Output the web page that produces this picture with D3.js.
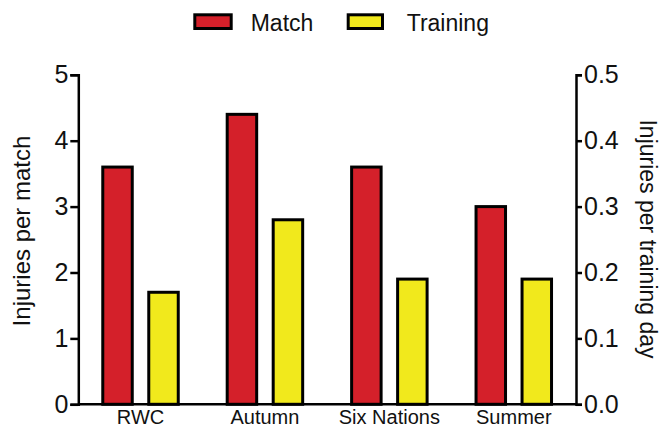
<!DOCTYPE html>
<html>
<head>
<meta charset="utf-8">
<script src="https://cdn.jsdelivr.net/npm/d3@7"></script>
<style>
  html, body { margin: 0; padding: 0; background: #fff; }
  svg { display: block; font-family: "Liberation Sans", Arial, Helvetica, sans-serif; }
</style>
</head>
<body>
<svg id="chart" width="662" height="428"></svg>
<script>
const categories = ["RWC", "Autumn", "Six Nations", "Summer"];
const seriesNames = ["Match", "Training"];
const matchValues = [3.6, 4.4, 3.6, 3.0];
const trainingValues = [0.17, 0.28, 0.19, 0.19];
const leftTicks = [0, 1, 2, 3, 4, 5];
const rightTicks = [0.0, 0.1, 0.2, 0.3, 0.4, 0.5];
const colors = { Match: "#d4202a", Training: "#f1e91c" };

(function () {
const svg = d3.select("#chart");
const mLeft = 78.3, mRight = 576, mTop = 74.8, mBottom = 404.3;

const x0 = d3.scaleBand().domain(categories).range([mLeft, mRight]).paddingInner(0).paddingOuter(0);
const x1 = d3.scaleBand().domain(seriesNames).range([0, x0.bandwidth()]).paddingInner(0.359).paddingOuter(0.532);
const yL = d3.scaleLinear().domain([0, 5]).range([mBottom, mTop]);
const yR = d3.scaleLinear().domain([0, 0.5]).range([mBottom, mTop]);

const rows = categories.map((c, i) => ({ cat: c, Match: matchValues[i], Training: trainingValues[i] }));

// bars
const g = svg.append("g");
rows.forEach(r => {
  g.append("rect")
    .attr("x", x0(r.cat) + x1("Match"))
    .attr("y", yL(r.Match))
    .attr("width", x1.bandwidth())
    .attr("height", mBottom - yL(r.Match))
    .attr("fill", colors.Match)
    .attr("stroke", "#000").attr("stroke-width", 3);
  g.append("rect")
    .attr("x", x0(r.cat) + x1("Training"))
    .attr("y", yR(r.Training))
    .attr("width", x1.bandwidth())
    .attr("height", mBottom - yR(r.Training))
    .attr("fill", colors.Training)
    .attr("stroke", "#000").attr("stroke-width", 3);
});

function styleAxis(sel, size) {
  sel.select(".domain").attr("stroke", "#000").attr("stroke-width", 2.5);
  sel.selectAll(".tick line").attr("stroke", "#000").attr("stroke-width", 2.5);
  sel.selectAll(".tick text").attr("fill", "#111").style("font-size", size + "px")
     .style("font-family", '"Liberation Sans", Arial, sans-serif');
}

// left axis
const gl = svg.append("g").attr("transform", `translate(${mLeft},0)`)
  .call(d3.axisLeft(yL).tickValues(leftTicks).tickFormat(d3.format("d")).tickSizeOuter(0).tickSize(8).tickPadding(2));
styleAxis(gl, 25);

// right axis
const gr = svg.append("g").attr("transform", `translate(${mRight},0)`)
  .call(d3.axisRight(yR).tickValues(rightTicks).tickFormat(d3.format(".1f")).tickSizeOuter(0).tickSize(6).tickPadding(2));
styleAxis(gr, 25);

// bottom axis
const gb = svg.append("g").attr("transform", `translate(0,${mBottom})`)
  .call(d3.axisBottom(x0).tickSize(0).tickSizeOuter(0).tickPadding(6));
styleAxis(gb, 20);
gb.select(".domain").attr("d", `M${mLeft},0H${mRight}`);

// axis titles
svg.append("text")
  .attr("transform", `translate(30,231) rotate(-90)`)
  .attr("text-anchor", "middle")
  .attr("fill", "#111")
  .style("font-size", "24px")
  .text("Injuries per match");

svg.append("text")
  .attr("transform", `translate(640,239) rotate(90)`)
  .attr("text-anchor", "middle")
  .attr("fill", "#111")
  .style("font-size", "23px")
  .text("Injuries per training day");

// legend
const legendItems = [
  { name: "Match", sx: 194.8, sw: 36.4, tx: 250.7 },
  { name: "Training", sx: 348.2, sw: 34.3, tx: 406.7 }
];
const lg = svg.append("g");
legendItems.forEach(it => {
  lg.append("rect")
    .attr("x", it.sx).attr("y", 14.8).attr("width", it.sw).attr("height", 13.7)
    .attr("fill", colors[it.name]).attr("stroke", "#000").attr("stroke-width", 3);
  lg.append("text")
    .attr("x", it.tx).attr("y", 30.7)
    .attr("fill", "#111")
    .style("font-size", "23px")
    .text(it.name);
});
})();
</script>
</body>
</html>
